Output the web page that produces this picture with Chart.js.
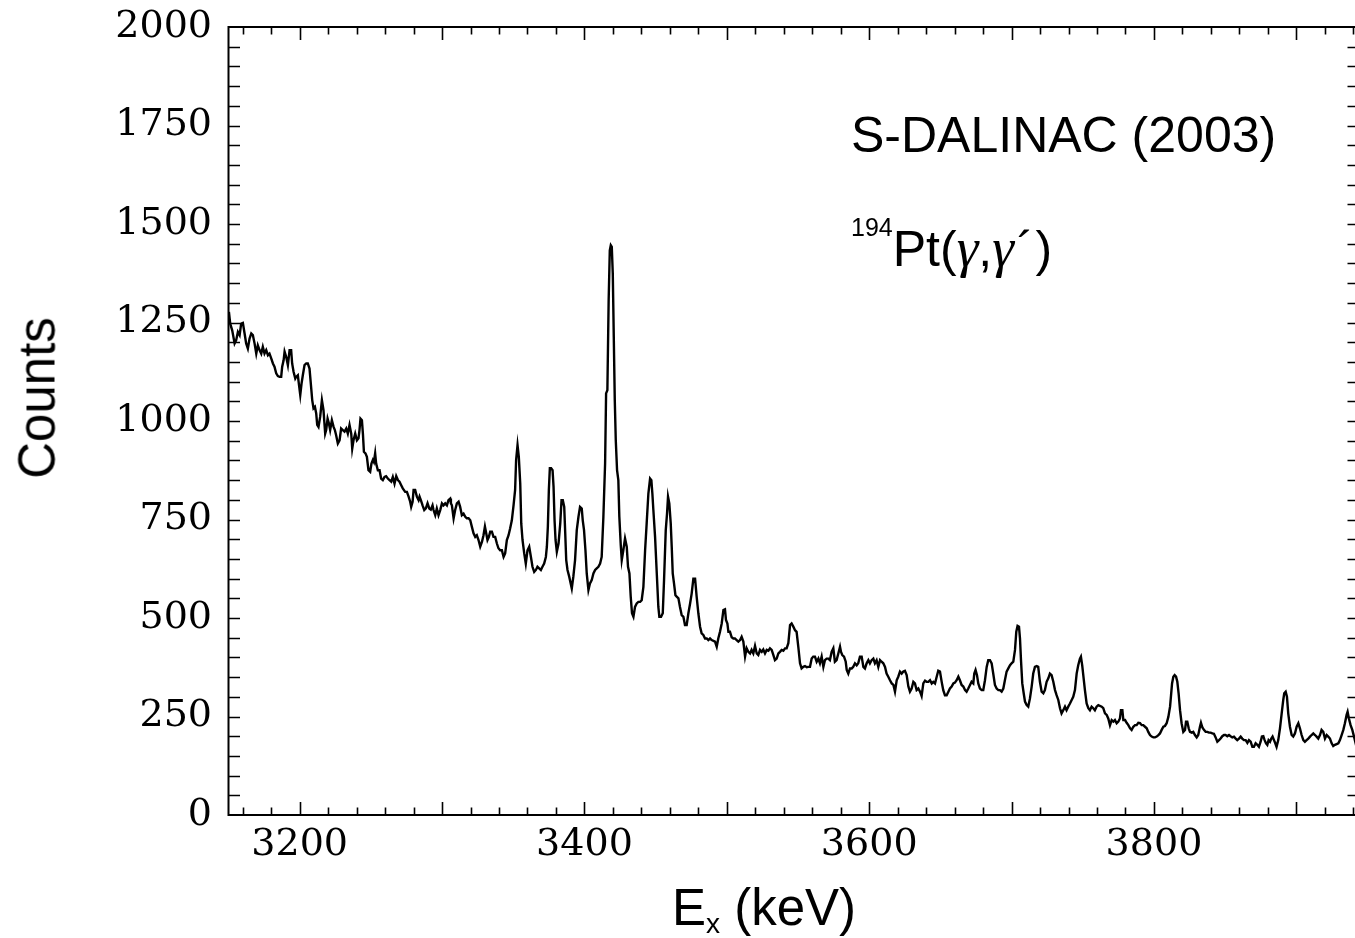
<!DOCTYPE html>
<html>
<head>
<meta charset="utf-8">
<title>194Pt(γ,γ′) spectrum</title>
<script src="https://cdn.jsdelivr.net/npm/chart.js"></script>
<style>
  html, body { margin: 0; padding: 0; background: #fff; overflow: hidden; width: 1355px; height: 938px; }
  #wrap { position: relative; width: 1365px; height: 938px; }
  #c { position: absolute; left: 0; top: 0; }
  .lbl { position: absolute; font-family: "Liberation Sans", Arial, Helvetica, sans-serif; color: #000; white-space: nowrap; line-height: 1; }
  .sup { font-size: 0.5em; position: relative; top: -1.2em; }
  .sub { font-size: 0.55em; position: relative; top: 0.28em; }
  .gam { font-family: "Liberation Serif", "Times New Roman", serif; font-style: italic; font-size: 1.1em; }
  .prm { display: inline-block; margin-left: 3px; margin-right: 2px; }
</style>
</head>
<body>
<div id="wrap">
  <canvas id="c" width="1365" height="938" style="width:1365px;height:938px"></canvas>
  <div class="lbl" id="tag1" style="left:851px; top:110px; font-size:50px;">S-DALINAC (2003)</div>
  <div class="lbl" id="tag2" style="left:851px; top:220px; font-size:50px;"><span class="sup">194</span>Pt(<span class="gam">γ</span>,<span class="gam">γ</span><span class="prm">´</span>)</div>
  <div class="lbl" id="ytitle" style="left:36.5px; top:398px; font-size:51px; transform:translate(-50%,-50%) rotate(-90deg);">Counts</div>
  <div class="lbl" id="xtitle" style="left:672px; top:882px; font-size:51px;">E<span class="sub">x</span> (keV)</div>
</div>
<script>
// Excitation energy of each spectrum bin (keV)
const energyKeV = [
  3150.3,3151.2,3152.6,3154.3,3155.4,3156.6,3157.8,3158.9,3160.1,3161.3,
  3162.4,3163.6,3164.8,3166.0,3167.1,3168.3,3169.5,3170.6,3171.8,3173.0,
  3174.1,3175.3,3176.5,3177.7,3178.8,3180.0,3181.2,3182.3,3183.5,3184.7,
  3185.9,3187.0,3187.7,3188.7,3189.4,3190.5,3191.7,3192.9,3194.0,3194.7,
  3195.7,3196.9,3197.5,3198.7,3199.4,3200.4,3201.3,3202.2,3203.4,3204.6,
  3205.7,3206.9,3208.1,3208.8,3209.7,3210.7,3211.6,3212.3,3213.2,3214.4,
  3215.6,3216.7,3217.9,3218.6,3219.6,3220.5,3221.4,3222.6,3223.8,3224.7,
  3225.6,3226.8,3228.0,3229.1,3230.3,3231.5,3232.7,3233.8,3235.0,3236.2,
  3236.9,3237.8,3239.0,3240.2,3241.3,3242.0,3242.7,3243.7,3244.4,3245.1,
  3246.2,3247.2,3248.3,3249.5,3250.4,3251.4,3252.1,3253.0,3253.7,3254.9,
  3256.1,3257.2,3258.4,3259.6,3260.7,3261.9,3263.1,3264.3,3265.4,3266.6,
  3267.8,3269.0,3270.1,3271.3,3272.4,3274.1,3275.3,3276.5,3277.6,3278.3,
  3279.3,3280.0,3281.1,3282.3,3283.5,3284.2,3285.1,3286.3,3287.5,3288.6,
  3289.8,3291.0,3292.1,3293.3,3294.0,3295.2,3296.3,3297.5,3298.7,3299.9,
  3301.0,3302.2,3303.4,3304.5,3305.7,3306.2,3306.9,3308.1,3309.2,3310.4,
  3311.6,3312.7,3313.9,3315.1,3316.3,3317.4,3318.6,3319.8,3320.9,3322.1,
  3323.3,3324.4,3325.6,3326.8,3328.0,3329.1,3330.1,3331.0,3331.9,3332.9,
  3333.8,3335.0,3336.1,3337.3,3338.5,3339.6,3340.8,3342.0,3343.2,3344.3,
  3345.5,3346.7,3347.8,3349.0,3350.2,3351.3,3352.0,3353.0,3353.9,3354.9,
  3355.6,3356.5,3357.7,3358.8,3360.0,3361.2,3362.4,3363.5,3364.7,3365.9,
  3367.0,3368.2,3369.4,3370.5,3371.7,3372.9,3373.6,3374.3,3375.0,3375.7,
  3376.6,3377.6,3378.3,3379.0,3379.7,3380.6,3381.8,3383.0,3383.9,3384.8,
  3385.8,3386.5,3387.2,3388.1,3389.3,3391.1,3392.2,3393.4,3394.6,3395.8,
  3396.9,3398.1,3398.8,3399.7,3400.7,3401.6,3402.8,3403.9,3405.1,3406.3,
  3407.5,3408.6,3409.8,3411.0,3412.1,3413.3,3414.5,3415.2,3416.1,3417.0,
  3417.8,3418.5,3419.2,3419.9,3420.6,3421.3,3422.0,3422.9,3423.8,3424.5,
  3425.5,3426.2,3427.3,3428.5,3429.7,3430.6,3431.6,3432.5,3433.4,3434.4,
  3435.5,3436.7,3437.9,3439.1,3440.2,3441.4,3442.6,3443.7,3444.9,3446.1,
  3447.0,3447.7,3448.4,3449.6,3450.8,3451.9,3452.6,3453.8,3455.0,3455.9,
  3457.1,3458.0,3458.7,3459.6,3460.6,3461.3,3462.0,3462.9,3463.9,3464.8,
  3466.0,3467.1,3468.3,3469.5,3470.6,3471.8,3473.0,3474.2,3475.3,3476.5,
  3477.7,3478.8,3480.0,3481.2,3482.3,3483.5,3484.7,3485.9,3487.0,3488.2,
  3489.4,3491.7,3492.9,3494.0,3495.2,3496.4,3497.6,3498.7,3499.4,3500.4,
  3501.1,3502.2,3503.4,3504.6,3505.7,3506.9,3508.1,3509.3,3510.4,3511.6,
  3512.8,3513.9,3515.1,3516.3,3517.4,3518.6,3519.8,3521.0,3522.1,3523.3,
  3524.5,3525.6,3526.8,3528.0,3529.2,3530.3,3531.5,3532.7,3533.8,3535.0,
  3536.2,3537.3,3538.5,3539.7,3540.9,3542.0,3543.2,3544.4,3545.5,3546.7,
  3547.9,3549.0,3550.2,3551.4,3552.5,3553.7,3554.9,3556.1,3557.2,3558.4,
  3559.6,3560.7,3561.9,3563.1,3564.3,3565.4,3566.6,3567.8,3568.9,3570.1,
  3571.3,3572.4,3573.6,3574.8,3575.9,3577.1,3578.3,3579.5,3580.2,3581.1,
  3582.3,3583.5,3584.2,3585.3,3586.5,3587.7,3588.8,3590.0,3591.2,3592.3,
  3593.5,3594.7,3595.9,3597.0,3598.2,3599.4,3600.5,3601.7,3602.9,3604.0,
  3605.2,3606.4,3607.6,3608.7,3609.9,3611.1,3612.2,3613.4,3614.6,3615.8,
  3617.0,3618.1,3619.3,3620.4,3621.6,3622.8,3624.0,3625.1,3626.3,3627.5,
  3628.6,3629.8,3631.0,3632.1,3633.3,3634.5,3635.7,3636.8,3638.0,3639.2,
  3640.3,3641.5,3642.7,3643.9,3645.0,3646.2,3647.4,3648.5,3649.7,3650.9,
  3652.0,3653.2,3654.4,3655.6,3656.7,3657.9,3659.1,3660.2,3661.4,3662.6,
  3663.7,3664.9,3666.1,3667.3,3668.4,3669.6,3670.8,3671.9,3673.1,3673.8,
  3674.7,3675.7,3676.6,3677.8,3679.0,3680.1,3681.3,3682.5,3683.6,3684.8,
  3686.0,3687.1,3688.3,3689.5,3690.7,3691.8,3693.0,3694.2,3695.3,3696.5,
  3697.7,3698.9,3700.0,3701.2,3702.4,3703.3,3704.2,3705.2,3705.9,3706.6,
  3707.5,3708.5,3709.4,3710.6,3711.7,3712.9,3714.1,3715.2,3716.4,3717.6,
  3718.7,3719.9,3721.1,3722.3,3723.4,3724.6,3725.8,3726.9,3728.1,3729.3,
  3730.5,3731.6,3732.8,3734.0,3735.1,3736.3,3737.5,3738.6,3739.8,3741.0,
  3742.2,3743.3,3744.5,3745.7,3746.8,3748.0,3748.7,3749.6,3750.6,3751.5,
  3752.7,3753.9,3755.0,3756.2,3757.4,3758.5,3759.7,3760.9,3763.3,3764.4,
  3765.6,3766.8,3767.9,3769.1,3770.3,3771.5,3772.6,3773.8,3775.0,3776.1,
  3776.8,3777.8,3778.5,3779.7,3780.8,3782.0,3783.2,3784.3,3785.5,3786.7,
  3787.8,3789.0,3790.2,3791.4,3792.5,3793.7,3794.9,3796.0,3797.2,3798.4,
  3799.6,3800.7,3801.9,3803.1,3804.2,3805.4,3806.6,3807.7,3808.9,3810.1,
  3811.3,3812.0,3812.7,3813.6,3814.5,3815.5,3816.4,3817.3,3818.3,3819.4,
  3820.6,3821.8,3822.5,3823.4,3824.4,3825.3,3826.5,3827.6,3828.8,3830.0,
  3831.1,3832.3,3833.0,3834.0,3835.1,3836.3,3837.5,3838.6,3839.8,3841.0,
  3842.1,3843.3,3844.5,3845.7,3846.8,3848.0,3849.2,3850.3,3851.5,3852.7,
  3853.8,3855.0,3856.2,3857.4,3858.5,3859.7,3860.9,3862.0,3863.2,3864.4,
  3865.6,3866.7,3867.9,3869.1,3870.2,3871.4,3872.6,3873.7,3874.9,3875.8,
  3876.8,3877.7,3878.7,3879.6,3880.5,3881.5,3882.4,3883.3,3884.3,3885.2,
  3886.1,3887.3,3888.5,3889.7,3890.8,3891.5,3892.5,3893.4,3894.3,3895.5,
  3896.7,3897.8,3899.0,3900.2,3901.4,3902.5,3903.7,3904.9,3906.0,3907.2,
  3908.4,3909.6,3910.7,3911.9,3913.1,3914.2,3915.4,3916.6,3917.7,3918.9,
  3920.1,3921.3,3922.4,3923.6,3924.8,3925.9,3927.1,3928.3,3929.5,3930.6,
  3931.8,3933.0,3934.1,3935.3,3936.0,3936.9,3938.1,3939.3,3940.5,3941.1
];

// Counts recorded in each bin
const counts = [
  1277,1247,1230,1197,1205,1226,1218,1247,1249,1222,
  1197,1184,1209,1222,1218,1197,1171,1192,1180,1171,
  1188,1171,1180,1167,1171,1159,1146,1138,1121,1114,
  1112,1112,1138,1154,1176,1163,1142,1180,1180,1146,
  1125,1108,1112,1116,1095,1066,1095,1116,1142,1146,
  1146,1133,1083,1053,1032,1036,1019,990,985,1011,
  1053,1028,968,977,1006,994,977,1002,985,977,
  964,943,951,981,977,973,981,968,990,968,
  930,951,968,951,956,977,1006,1002,968,922,
  918,909,875,871,892,901,896,918,892,875,
  875,854,850,858,860,854,850,846,858,841,
  860,850,846,837,829,820,820,808,795,782,
  795,825,825,808,799,808,799,786,774,778,
  791,778,775,786,774,761,778,761,774,791,
  786,791,786,799,803,791,786,753,774,791,
  795,782,761,765,757,753,753,748,732,715,
  706,710,698,681,693,710,732,715,698,706,
  719,719,706,706,689,677,672,672,655,664,
  698,710,727,748,786,825,901,939,909,841,
  740,698,664,638,672,681,655,630,617,622,
  630,626,622,630,638,655,681,732,825,880,
  880,875,833,748,698,668,689,740,799,799,
  782,715,647,622,605,575,605,647,723,757,
  782,778,748,723,672,613,571,588,596,613,
  622,626,630,638,655,757,892,1070,1078,1307,
  1433,1446,1442,1374,1213,1053,951,875,850,757,
  685,647,672,702,681,630,613,554,512,503,
  528,537,541,541,545,579,672,740,816,854,
  850,816,774,706,613,528,503,503,512,596,
  723,765,808,791,740,681,613,588,558,554,
  550,528,507,503,482,482,512,537,562,600,
  600,554,512,478,461,457,448,448,444,448,
  444,440,427,448,465,486,520,522,495,486,
  465,465,451,448,448,444,440,444,452,440,
  402,423,414,410,419,410,429,410,406,419,
  414,420,410,419,417,423,419,406,393,397,
  410,414,419,417,423,423,436,482,486,478,
  469,465,427,385,372,376,378,375,376,376,
  397,402,402,389,397,385,402,376,393,397,
  397,393,414,423,389,393,410,427,414,406,
  402,389,368,359,372,372,376,385,380,385,
  402,402,376,372,385,393,385,393,397,385,
  393,376,393,389,385,376,359,351,342,334,
  330,313,342,351,364,359,364,366,355,326,
  313,321,338,334,317,321,313,302,334,341,
  338,338,342,334,338,334,351,366,364,338,
  317,304,304,313,321,326,334,336,342,351,
  342,330,326,317,313,321,330,338,334,359,
  368,355,334,321,317,317,342,376,393,393,
  385,359,330,321,317,317,313,321,342,364,
  372,380,385,389,419,465,480,478,448,393,
  334,309,288,279,275,296,326,359,376,378,
  376,338,313,309,317,338,347,359,355,338,
  317,304,292,271,258,266,275,266,275,283,
  292,300,317,359,380,397,402,380,347,317,
  283,271,266,275,271,266,275,279,275,271,
  258,254,245,228,241,237,241,233,237,245,
  266,266,241,241,234,228,220,216,224,228,
  228,234,233,228,228,224,220,211,203,199,
  197,197,199,203,207,216,224,226,233,249,
  275,304,334,351,355,351,338,309,266,233,
  211,216,237,237,220,211,209,211,203,197,
  203,224,234,222,216,211,211,209,209,207,
  206,197,186,190,194,200,203,203,200,203,
  200,197,199,194,190,194,199,194,190,190,
  183,190,186,173,173,182,178,173,186,199,
  200,190,182,178,190,186,194,199,190,182,
  173,190,220,258,292,309,313,300,258,224,
  203,199,207,224,233,220,203,190,186,190,
  194,199,203,207,203,199,194,203,216,211,
  194,203,199,194,182,175,178,180,182,190,
  203,216,233,254,262,245,228,216,199,190
];

// Axis ranges and labelled tick values
const energyRange = [3150, 3944];
const countRange = [0, 2000];
const energyTickLabels = [3200, 3400, 3600, 3800];
const countTickLabels = [0, 250, 500, 750, 1000, 1250, 1500, 1750, 2000];
// Tick-mark spacing: minor / major energy marks, count marks
const energyMinorStep = 20, energyMajorStep = 100, countMarkStep = 50;

const n = Math.min(energyKeV.length, counts.length);
const spectrum = [];
for (let i = 0; i < n; i++) spectrum.push({ x: energyKeV[i], y: counts[i] });

// Closed frame with inward-pointing tick marks on all four sides
const framePlugin = {
  id: 'frame',
  afterDatasetsDraw(chart) {
    const { ctx, chartArea: a, scales: { x, y } } = chart;
    ctx.save();
    ctx.strokeStyle = '#000';
    ctx.lineWidth = 2;
    ctx.strokeRect(a.left, a.top, a.right - a.left, a.bottom - a.top);
    ctx.lineWidth = 1.6;
    ctx.beginPath();
    const first = Math.ceil(energyRange[0] / energyMinorStep) * energyMinorStep;
    for (let v = first; v < energyRange[1]; v += energyMinorStep) {
      const px = Math.round(x.getPixelForValue(v)) + 0.5;
      const len = (v % energyMajorStep === 0) ? 13 : 7.5;
      ctx.moveTo(px, a.bottom); ctx.lineTo(px, a.bottom - len);
      ctx.moveTo(px, a.top); ctx.lineTo(px, a.top + len);
    }
    for (let v = countRange[0] + countMarkStep; v < countRange[1]; v += countMarkStep) {
      const py = Math.round(y.getPixelForValue(v)) + 0.5;
      ctx.moveTo(a.left, py); ctx.lineTo(a.left + 11.5, py);
      ctx.moveTo(a.right, py); ctx.lineTo(a.right - 11.5, py);
    }
    ctx.stroke();
    ctx.restore();
  }
};

const tickFont = { family: '"DejaVu Serif", "Liberation Serif", serif', size: 38, weight: 'normal' };

new Chart(document.getElementById('c'), {
  type: 'line',
  data: {
    datasets: [{
      data: spectrum,
      borderColor: '#000',
      borderWidth: 2.4,
      pointRadius: 0,
      tension: 0,
      fill: false,
      borderJoinStyle: 'miter'
    }]
  },
  options: {
    responsive: false,
    animation: false,
    devicePixelRatio: 1,
    layout: { padding: { top: 27, right: 6, bottom: 0, left: 0 } },
    plugins: { legend: { display: false }, tooltip: { enabled: false } },
    scales: {
      x: {
        type: 'linear',
        position: 'bottom',
        min: energyRange[0],
        max: energyRange[1],
        afterBuildTicks: s => { s.ticks = energyTickLabels.map(v => ({ value: v })); },
        afterFit: s => { s.height = 123; s.paddingLeft = 0; s.paddingRight = 0; },
        grid: { display: false, drawTicks: false },
        border: { display: false },
        ticks: { font: tickFont, color: '#000', padding: 7, maxRotation: 0, autoSkip: false, callback: v => String(v) }
      },
      y: {
        type: 'linear',
        position: 'left',
        min: countRange[0],
        max: countRange[1],
        afterBuildTicks: s => { s.ticks = countTickLabels.map(v => ({ value: v })); },
        afterFit: s => { s.width = 228.5; s.paddingTop = 0; s.paddingBottom = 0; },
        grid: { display: false, drawTicks: false },
        border: { display: false },
        ticks: { font: tickFont, color: '#000', padding: 16.5, autoSkip: false, callback: v => String(v) }
      }
    }
  },
  plugins: [framePlugin]
});
</script>
</body>
</html>
